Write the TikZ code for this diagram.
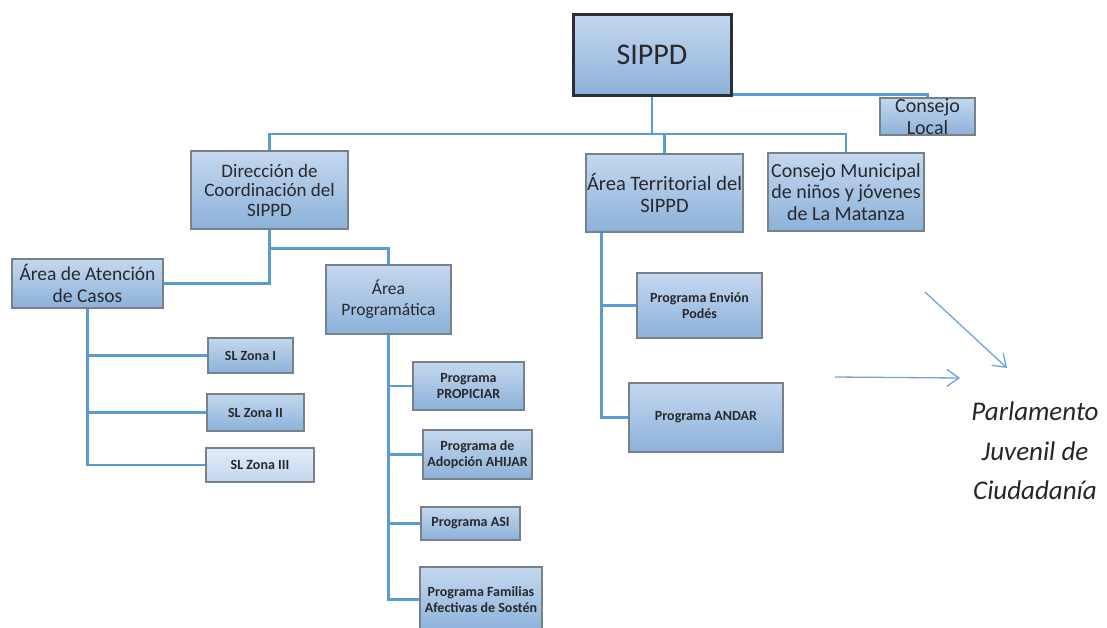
\documentclass[tikz,border=0pt]{standalone}
\usepackage{fontspec}
\setmainfont{Carlito}
\usetikzlibrary{arrows.meta,calc}

\definecolor{boxtop}{RGB}{196,216,238}
\definecolor{boxbot}{RGB}{140,177,218}
\definecolor{palebot}{RGB}{196,215,238}
\definecolor{paletop}{RGB}{226,236,247}
\definecolor{boxline}{RGB}{120,128,138}
\definecolor{headline}{RGB}{45,45,50}
\definecolor{linkblue}{RGB}{91,155,213}
\definecolor{arrowblue}{RGB}{110,165,222}
\definecolor{txt}{RGB}{40,40,45}

\newcommand{\fs}[2]{\fontsize{#1}{#2}\selectfont}

\begin{document}
\begin{tikzpicture}[x=1pt,y=-1pt,
  box/.style={draw=boxline, line width=1.1pt, top color=boxtop, bottom color=boxbot,
    inner sep=0pt, align=center, text=txt},
  lvlB/.style={font=\bfseries\fs{14}{15.5}},
  link/.style={draw=linkblue, line width=2.3pt},
  note/.style={draw=arrowblue, line width=1.3pt, -{Straight Barb[length=12pt,width=17pt]}}]

\fill[white] (0,0) rectangle (1107,627);
\useasboundingbox (0,0) rectangle (1107,627);

% top level
\node[box, draw=headline, line width=3pt, minimum width=158pt, minimum height=81pt,
  font=\fs{30}{34}] (sippd) at (652,54.5) {SIPPD};
\node[box, font=\fs{20}{22}, minimum width=95pt, minimum height=37pt] (local) at (927.5,116.5)
  {Consejo\\Local};

% second level
\node[box, font=\fs{19}{19.5}, minimum width=157pt, minimum height=78pt]
  (direc) at (269.5,190) {Dirección de\\Coordinación del\\SIPPD};
\node[box, font=\fs{20.5}{22}, minimum width=157pt, minimum height=78pt] (terr) at (664.5,193)
  {Área Territorial del\\SIPPD};
\node[box, font=\fs{20}{21.7}, minimum width=156pt, minimum height=78pt] (munic) at (846,192)
  {Consejo Municipal\\de niños y jóvenes\\de La Matanza};

% third level
\node[box, font=\fs{19.5}{22}, minimum width=151pt, minimum height=49pt] (casos) at (87.5,283.5)
  {Área de Atención\\de Casos};
\node[box, font=\fs{17.5}{21}, minimum width=125pt, minimum height=69pt]
  (prog) at (388.5,299.5) {Área\\Programática};

% zones
\node[box, lvlB, minimum width=85pt, minimum height=35pt] (z1) at (250.5,355.5) {SL Zona I};
\node[box, lvlB, minimum width=97pt, minimum height=37pt] (z2) at (255.5,412.5) {SL Zona II};
\node[box, lvlB, top color=paletop, bottom color=palebot, minimum width=108pt, minimum height=34pt]
  (z3) at (260,465) {SL Zona III};

% programmes
\node[box, lvlB, minimum width=111pt, minimum height=48pt] (propi) at (468.5,386)
  {Programa\\PROPICIAR};
\node[box, lvlB, minimum width=109pt, minimum height=49pt] (ahijar) at (477.5,454.5)
  {Programa de\\Adopción AHIJAR};
\node[box, lvlB, minimum width=99pt, minimum height=33pt] (asi) at (470.5,523.5)
  {Programa ASI};
\node[box, lvlB, minimum width=122pt, minimum height=65pt] (famil) at (481,599.5)
  {Programa Familias\\Afectivas de Sostén};
\node[box, lvlB, minimum width=125pt, minimum height=65pt] (envion) at (699.5,305.5)
  {Programa Envión\\Podés};
\node[box, lvlB, minimum width=154pt, minimum height=69pt] (andar) at (706,417.5)
  {Programa ANDAR};

% connectors
\coordinate (bus) at (0,134);
\draw[link] (sippd.south) -- (sippd.south |- bus) -| (direc.north);
\draw[link] (sippd.south |- bus) -| (terr.north);
\draw[link] (sippd.south |- bus) -| (munic.north);
\draw[link] ([yshift=2pt]sippd.south east) -| (local.north);

\draw[link] (direc.south) |- (casos.east);
\draw[link] ($(direc.south)+(0,19)$) -| (prog.north);

\draw[link] (casos.south) |- (z3.west);
\draw[link] (casos.south |- z1.west) -- (z1.west);
\draw[link] (casos.south |- z2.west) -- (z2.west);

\draw[link] (prog.south) |- (famil.west);
\draw[link] (prog.south |- propi.west) -- (propi.west);
\draw[link] (prog.south |- ahijar.west) -- (ahijar.west);
\draw[link] (prog.south |- asi.west) -- (asi.west);

\coordinate (tdrop) at ($(terr.south west)+(16,0)$);
\draw[link] (tdrop) |- (andar.west);
\draw[link] (tdrop |- envion.west) -- (envion.west);

% youth parliament
\node[font=\itshape\fs{27}{39.5}, align=center, text=black!85] (parl) at (1035,451)
  {Parlamento\\Juvenil de\\Ciudadanía};
\coordinate (a1s) at (925,292);
\coordinate (a1e) at (1007,368);
\coordinate (a2s) at (835,377);
\coordinate (a2e) at (960,378);
\draw[note] (a1s) -- (a1e);
\draw[note] (a2s) -- (a2e);

\end{tikzpicture}
\end{document}
